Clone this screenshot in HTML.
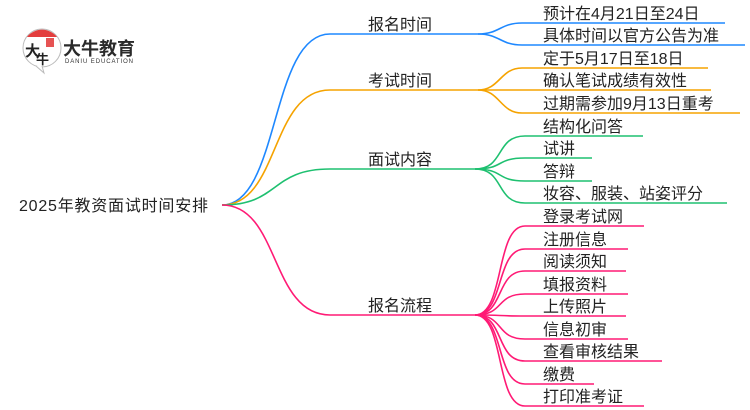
<!DOCTYPE html>
<html><head><meta charset="utf-8"><style>
html,body{margin:0;padding:0;background:#fff;width:750px;height:410px;overflow:hidden}
svg{display:block}
text{font-family:"Liberation Sans","Noto Sans CJK SC",sans-serif;fill:#222;font-size:16px}
</style></head><body>
<svg width="750" height="410" viewBox="0 0 750 410" xmlns="http://www.w3.org/2000/svg">
<!-- logo -->
<circle cx="42" cy="48" r="19" fill="#fff" stroke="#bbb" stroke-width="1"/>
<path d="M27,37 A19,19 0 0 1 57,37 Z" fill="#e02828" opacity="0.9"/>
<rect x="46" y="38" width="8" height="9" fill="#e02828" opacity="0.8"/>
<path d="M36,66 L44,73 L42,66" fill="#fff" stroke="#bbb" stroke-width="1"/>
<text x="25" y="56" style="font-size:15px;font-weight:bold;fill:#222">大</text>
<text x="36" y="64" style="font-size:13px;font-weight:bold;fill:#222">牛</text>
<text x="63" y="55" style="font-size:18px;font-weight:bold;fill:#2a2a2a">大牛教育</text>
<text x="65" y="63" style="font-size:6px;fill:#333" textLength="68">DANIU EDUCATION</text>

<text x="19" y="211" style="font-size:16px" textLength="189">2025年教资面试时间安排</text>

<g fill="none" stroke-width="1.6">
<g stroke="#1e88ff">
<path d="M222,205 C280,205 270,34 330,34 L478,34"/>
<path d="M478,34 C500,34 500,23 522,23 L725,23"/>
<path d="M478,34 C500,34 500,45 522,45 L745,45"/>
</g>
<g stroke="#f5a300">
<path d="M222,205 C280,205 270,90 330,90 L478,90"/>
<path d="M478,90 C500,90 500,68 522,68 L708,68"/>
<path d="M478,90 L711,90"/>
<path d="M478,90 C500,90 500,113 522,113 L740,113"/>
</g>
<g stroke="#1ec070">
<path d="M222,205 C280,205 270,169 330,169 L475,169"/>
<path d="M475,169 C505,169 495,136 525,136 L643,136"/>
<path d="M475,169 C505,169 495,158 525,158 L592,158"/>
<path d="M475,169 C505,169 495,181 525,181 L592,181"/>
<path d="M475,169 C505,169 495,203 525,203 L727,203"/>
</g>
<g stroke="#ff1a75">
<path d="M222,205 C280,205 270,315 330,315 L475,315"/>
<path d="M475,315 C505,315 495,226 525,226 L644,226"/>
<path d="M475,315 C505,315 495,249 525,249 L628,249"/>
<path d="M475,315 C505,315 495,271 525,271 L626,271"/>
<path d="M475,315 C505,315 495,294 525,294 L628,294"/>
<path d="M475,315 C505,315 495,316 525,316 L626,316"/>
<path d="M475,315 C505,315 495,339 525,339 L628,339"/>
<path d="M475,315 C505,315 495,361 525,361 L662,361"/>
<path d="M475,315 C505,315 495,384 525,384 L594,384"/>
<path d="M475,315 C505,315 495,406 525,406 L644,406"/>
</g>
</g>

<g style="font-size:16px">
<text x="368" y="30">报名时间</text>
<text x="368" y="86">考试时间</text>
<text x="368" y="165">面试内容</text>
<text x="368" y="311">报名流程</text>
</g>

<text x="543" y="19">预计在4月21日至24日</text>
<text x="543" y="41">具体时间以官方公告为准</text>
<text x="543" y="64">定于5月17日至18日</text>
<text x="543" y="86">确认笔试成绩有效性</text>
<text x="543" y="109">过期需参加9月13日重考</text>
<text x="543" y="132">结构化问答</text>
<text x="543" y="154">试讲</text>
<text x="543" y="177">答辩</text>
<text x="543" y="199">妆容、服装、站姿评分</text>
<text x="543" y="222">登录考试网</text>
<text x="543" y="245">注册信息</text>
<text x="543" y="267">阅读须知</text>
<text x="543" y="290">填报资料</text>
<text x="543" y="312">上传照片</text>
<text x="543" y="335">信息初审</text>
<text x="543" y="357">查看审核结果</text>
<text x="543" y="380">缴费</text>
<text x="543" y="402">打印准考证</text>
</svg>
</body></html>
